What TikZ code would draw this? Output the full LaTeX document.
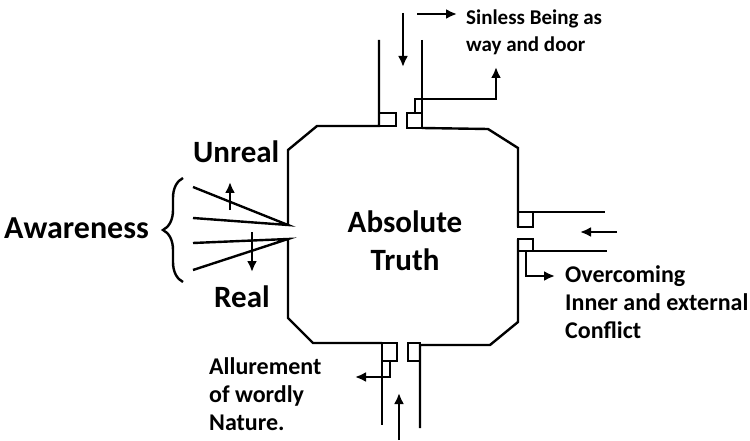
\documentclass[tikz,border=0pt]{standalone}
\usepackage{fontspec}
\setmainfont{Carlito}
\usetikzlibrary{arrows.meta,decorations.pathreplacing}
\begin{document}
\begin{tikzpicture}[x=1pt,y=-1pt,line width=2.4pt,
  wall/.style={draw=black,line join=miter},
  arr/.style={draw=black,-{Latex[length=11pt,width=10pt]}},
  big/.style={font=\fontsize{31}{38}\selectfont\bfseries,inner sep=0pt,align=left},
  mid/.style={font=\fontsize{24}{28}\selectfont\bfseries,inner sep=0pt,align=left},
  sml/.style={font=\fontsize{21}{27}\selectfont\bfseries,inner sep=0pt,align=left}]
\useasboundingbox (0,0) rectangle (750,441);
% octagon walls
\draw[wall] (379,40) -- (379,126) -- (317,126) -- (288,150) -- (288,225);
\draw[wall] (288,239) -- (288,318) -- (313,343) -- (382,343);
\draw[wall] (382,343) -- (382,425);
\draw[wall] (382,343) rectangle (397,361);
\draw[wall] (382,361) rectangle (390,377);
\draw[wall] (408,343) rectangle (420,361);
\draw[wall] (420,428) -- (420,345) -- (490,345) -- (518,322) -- (518,239);
\draw[wall] (518,239) rectangle (533,251);
\draw[wall] (518,251) -- (607,251);
\draw[wall] (518,212) rectangle (533,227);
\draw[wall] (518,212) -- (605,212);
\draw[wall] (518,227) -- (518,148) -- (488,129) -- (422,128);
\draw[wall] (407,113) rectangle (422,128);
\draw[wall] (422,40) -- (422,128);
\draw[wall] (415,99) rectangle (422,113);
\draw[wall] (379,113) rectangle (396,126);
% awareness rays
\coordinate (cu) at (288,225);
\coordinate (cl) at (288,239);
\coordinate (r1) at (193,187);
\coordinate (r2) at (193,218);
\coordinate (r3) at (193,243);
\coordinate (r4) at (193,270);
\draw[wall] (r1) -- (cu) -- (r2);
\draw[wall] (r3) -- (cl) -- (r4);
% arrows
\coordinate (t1) at (403,13); \coordinate (t2) at (403,67);
\draw[arr] (t1) -- (t2);
\coordinate (s1) at (417,14); \coordinate (s2) at (457,14);
\draw[arr] (s1) -- (s2);
\coordinate (w1) at (415,99); \coordinate (w2) at (496,99); \coordinate (w3) at (496,67);
\draw[arr] (w1) -- (w2) -- (w3);
\coordinate (e1) at (617,232); \coordinate (e2) at (580,232);
\draw[arr] (e1) -- (e2);
\coordinate (o1) at (526,251); \coordinate (o2) at (526,276); \coordinate (o3) at (555,276);
\draw[arr] (o1) -- (o2) -- (o3);
\coordinate (b1) at (399,440); \coordinate (b2) at (399,393);
\draw[arr] (b1) -- (b2);
\coordinate (a1) at (390,377); \coordinate (a2) at (355,377);
\draw[arr] (a1) -- (a2);
\coordinate (u1) at (230,210); \coordinate (u2) at (230,182);
\draw[arr] (u1) -- (u2);
\coordinate (d1) at (252,232); \coordinate (d2) at (252,272);
\draw[arr] (d1) -- (d2);
% brace
\coordinate (br1) at (183,282); \coordinate (br2) at (183,178);
\draw[wall,decorate,decoration={brace,amplitude=20pt}] (br1) -- (br2);
% texts
\node[big,anchor=base,align=center] (abs) at (405,270) {Absolute\\Truth};
\node[big,anchor=base west] (unreal) at (192,163) {Unreal};
\node[big,anchor=base west] (real) at (213,307) {Real};
\node[font=\fontsize{32}{38}\selectfont\bfseries,inner sep=0pt,anchor=base west] (aware) at (3,238) {Awareness};
\node[sml,anchor=base west] (sinless) at (465,52) {Sinless Being as\\way and door};
\node[mid,anchor=base west] (over) at (564,338) {Overcoming\\Inner and external\\Conflict};
\node[mid,anchor=base west] (allure) at (208,430) {Allurement\\of wordly\\Nature.};
\end{tikzpicture}
\end{document}
